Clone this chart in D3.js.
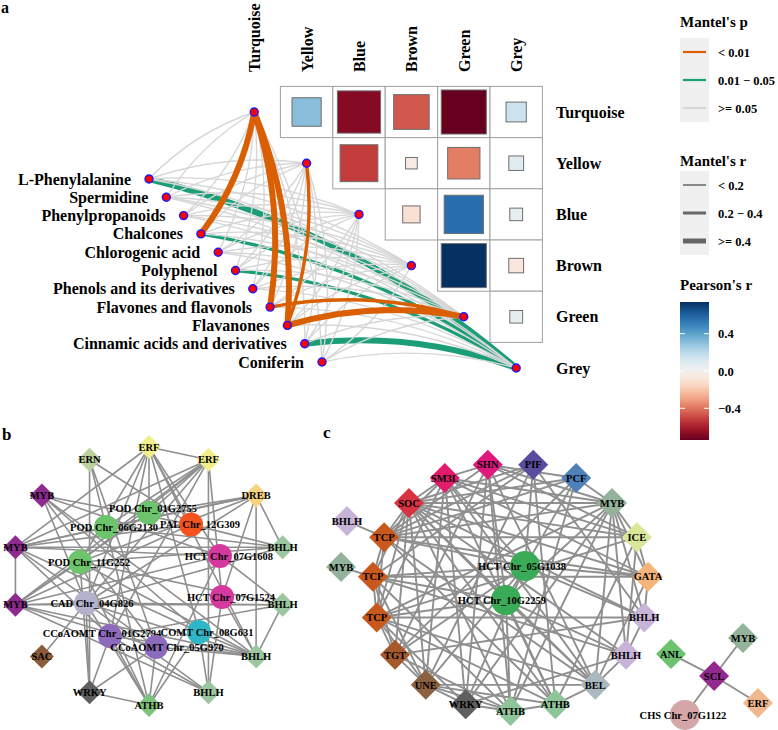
<!DOCTYPE html>
<html><head><meta charset="utf-8">
<script src="https://cdn.jsdelivr.net/npm/d3@7"></script>
<style>
body{margin:0;background:#fff}
text{font-family:"Liberation Serif","Times New Roman",serif;font-weight:bold;fill:#000}
</style></head>
<body><svg id="chart" width="778" height="730"></svg>
<script>
// ================= DATA =================
// Panel a
const modules = ["Turquoise","Yellow","Blue","Brown","Green","Grey"];
const envVars = ["L-Phenylalanine","Spermidine","Phenylpropanoids","Chalcones","Chlorogenic acid","Polyphenol","Phenols and its derivatives","Flavones and flavonols","Flavanones","Cinnamic acids and derivatives","Coniferin"];
const pearsonRows = ["Turquoise","Turquoise","Turquoise","Turquoise","Turquoise","Yellow","Yellow","Yellow","Yellow","Blue","Blue","Blue","Brown","Brown","Green"];
const pearsonCols = ["Yellow","Blue","Brown","Green","Grey","Blue","Brown","Green","Grey","Brown","Green","Grey","Green","Grey","Grey"];
const pearsonR    = [0.31,-0.68,-0.46,-0.74,0.15,-0.52,-0.05,-0.38,0.08,-0.11,0.56,0.06,0.74,-0.08,0.06];
const mantelEnv    = ["Chalcones","Flavones and flavonols","Flavanones","Flavanones","Flavones and flavonols","Flavanones","L-Phenylalanine","Chalcones","Polyphenol","Cinnamic acids and derivatives"];
const mantelModule = ["Turquoise","Turquoise","Turquoise","Yellow","Green","Green","Grey","Grey","Grey","Grey"];
const mantelP      = ["< 0.01","< 0.01","< 0.01","< 0.01","< 0.01","< 0.01","0.01 − 0.05","0.01 − 0.05","0.01 − 0.05","0.01 − 0.05"];
const mantelR      = [">= 0.4",">= 0.4",">= 0.4","0.2 − 0.4","0.2 − 0.4",">= 0.4",">= 0.4","0.2 − 0.4","0.2 − 0.4",">= 0.4"];
const pLevels = ["< 0.01","0.01 − 0.05",">= 0.05"];
const rLevels = ["< 0.2","0.2 − 0.4",">= 0.4"];
const pearsonTicks = [0.4,0.0,-0.4];
const pearsonLimit = [-0.74,0.74];

// Panel b : ring of transcription factors (clockwise from top) and gene nodes
const bRingIds    = ["ERF1","ERF2","DREB","BHLH1","BHLH2","BHLH3","BHLH4","ATHB","WRKY","SAC","MYBlow","MYBmid","MYBtop","ERN"];
const bRingLabels = ["ERF","ERF","DREB","BHLH","BHLH","BHLH","BHLH","ATHB","WRKY","SAC","MYB","MYB","MYB","ERN"];
const bGeneIds    = ["POD01","PAL","POD06","HCT1608","POD11","HCT1524","CAD","COMT","CCo01","CCo05"];
const bGeneLabels = ["POD Chr_01G2755","PAL Chr_12G309","POD Chr_06G2130","HCT Chr_07G1608","POD Chr_11G252","HCT Chr_07G1524","CAD Chr_04G826","COMT Chr_08G631","CCoAOMT Chr_01G2794","CCoAOMT Chr_05G970"];
const bGeneFamily = ["POD","PAL","POD","HCT","POD","HCT","CAD","COMT","CCoAOMT","CCoAOMT"];
const bEdges = [
 ["ERF1","ERF2"],["ERF1","POD01"],["ERF1","MYBmid"],["ERF1","POD11"],["ERF1","CAD"],["ERF1","PAL"],["ERF1","HCT1608"],["ERF1","BHLH3"],["ERF1","COMT"],["ERF1","CCo01"],
 ["ERF2","MYBmid"],["ERF2","MYBlow"],["ERF2","POD11"],["ERF2","POD06"],["ERF2","CAD"],["ERF2","CCo01"],["ERF2","BHLH4"],["ERF2","HCT1524"],["ERF2","POD01"],
 ["DREB","BHLH3"],["DREB","POD11"],["DREB","POD06"],["DREB","MYBmid"],["DREB","CAD"],["DREB","BHLH1"],["DREB","HCT1524"],["DREB","POD01"],
 ["MYBtop","PAL"],["MYBtop","BHLH3"],["MYBtop","CCo05"],["MYBtop","COMT"],["MYBtop","CAD"],["MYBtop","HCT1608"],
 ["MYBmid","MYBlow"],["MYBmid","BHLH1"],["MYBmid","POD06"],["MYBmid","PAL"],["MYBmid","CCo01"],["MYBmid","CCo05"],["MYBmid","COMT"],["MYBmid","HCT1608"],
 ["MYBlow","BHLH2"],["MYBlow","CAD"],["MYBlow","POD11"],["MYBlow","PAL"],["MYBlow","HCT1608"],["MYBlow","CCo05"],["MYBlow","BHLH3"],["MYBlow","BHLH4"],["MYBlow","POD01"],
 ["BHLH1","POD11"],["BHLH1","CAD"],["BHLH1","PAL"],["BHLH1","POD06"],
 ["BHLH2","CAD"],["BHLH2","HCT1608"],["BHLH2","BHLH3"],["BHLH2","CCo01"],["BHLH2","POD11"],
 ["BHLH3","CCo05"],["BHLH3","CCo01"],["BHLH3","COMT"],["BHLH3","CAD"],["BHLH3","POD11"],["BHLH3","HCT1524"],
 ["BHLH4","CCo01"],["BHLH4","CAD"],["BHLH4","HCT1524"],["BHLH4","COMT"],
 ["ATHB","CCo05"],["ATHB","CCo01"],["ATHB","POD11"],["ATHB","CAD"],["ATHB","WRKY"],["ATHB","HCT1608"],["ATHB","POD06"],["ATHB","COMT"],
 ["WRKY","ERN"],["WRKY","CAD"],["WRKY","POD11"],["WRKY","CCo01"],["WRKY","CCo05"],
 ["SAC","CAD"],["ERN","PAL"],["ERN","CCo05"],["ERN","POD06"]
];

// Panel c
const cRingIds    = ["PIF","PCF","MYBt","ICE","GATA","BHLHr","BHLHlr","BEL","ATHB2","ATHB1","WRKY","UNE","TGT","TCP3","TCP2","TCP1","SOC","SM3L","SHN"];
const cRingLabels = ["PIF","PCF","MYB","ICE","GATA","BHLH","BHLH","BEL","ATHB","ATHB","WRKY","UNE","TGT","TCP","TCP","TCP","SOC","SM3L","SHN"];
const cOtherIds    = ["BHLHo","MYBo","HCT05","HCT10","SCL","ANL","MYBs","ERFs","CHS"];
const cOtherLabels = ["BHLH","MYB","HCT Chr_05G1038","HCT Chr_10G2259","SCL","ANL","MYB","ERF","CHS Chr_07G1122"];
const cOtherShape  = ["diamond","diamond","circle","circle","diamond","diamond","diamond","diamond","circle"];
const cEdges = [
 ["BHLHo","TCP1"],["MYBo","TCP2"],
 ["TCP1","SOC"],["TCP1","SM3L"],["TCP1","TCP2"],["TCP1","TCP3"],["TCP1","ICE"],["TCP1","HCT05"],["TCP1","BEL"],["TCP1","ATHB2"],["TCP1","GATA"],["TCP1","PCF"],["TCP1","MYBt"],
 ["TCP2","GATA"],["TCP2","HCT10"],["TCP2","HCT05"],["TCP2","SOC"],["TCP2","TGT"],["TCP2","UNE"],["TCP2","BHLHlr"],["TCP2","ATHB1"],["TCP2","PIF"],["TCP2","TCP3"],
 ["TCP3","BHLHr"],["TCP3","TGT"],["TCP3","UNE"],["TCP3","WRKY"],["TCP3","HCT10"],["TCP3","SM3L"],["TCP3","ATHB2"],["TCP3","BEL"],["TCP3","MYBt"],["TCP3","ICE"],["TCP3","SOC"],
 ["TGT","UNE"],["TGT","HCT05"],["TGT","SOC"],["TGT","SHN"],["TGT","BHLHr"],["TGT","ATHB1"],["TGT","PCF"],
 ["UNE","WRKY"],["UNE","ATHB1"],["UNE","ATHB2"],["UNE","SM3L"],["UNE","SOC"],["UNE","PIF"],["UNE","BEL"],["UNE","HCT05"],
 ["WRKY","ATHB1"],["WRKY","SHN"],["WRKY","SM3L"],["WRKY","MYBt"],["WRKY","BHLHlr"],["WRKY","HCT05"],
 ["ATHB1","ATHB2"],["ATHB1","SHN"],["ATHB1","HCT10"],["ATHB1","PCF"],["ATHB1","MYBt"],["ATHB1","SOC"],
 ["ATHB2","BEL"],["ATHB2","PIF"],["ATHB2","HCT10"],["ATHB2","ICE"],["ATHB2","SM3L"],["ATHB2","SOC"],
 ["BEL","BHLHlr"],["BEL","GATA"],["BEL","HCT10"],["BEL","SOC"],["BEL","SM3L"],["BEL","SHN"],["BEL","MYBt"],
 ["BHLHlr","BHLHr"],["BHLHlr","MYBt"],["BHLHlr","ICE"],["BHLHlr","SOC"],["BHLHlr","HCT10"],
 ["BHLHr","GATA"],["BHLHr","MYBt"],["BHLHr","SOC"],["BHLHr","PIF"],["BHLHr","HCT05"],
 ["GATA","ICE"],["GATA","MYBt"],["GATA","SM3L"],["GATA","SOC"],["GATA","HCT05"],
 ["ICE","MYBt"],["ICE","SOC"],["ICE","SM3L"],["ICE","SHN"],
 ["MYBt","PCF"],["MYBt","SOC"],["MYBt","SM3L"],["MYBt","HCT10"],["MYBt","SHN"],
 ["PCF","SOC"],["PCF","HCT10"],["PCF","SHN"],
 ["PIF","HCT05"],["PIF","SOC"],["PIF","TCP1"],
 ["SHN","SM3L"],["SHN","HCT10"],["SHN","TCP1"],
 ["SM3L","SOC"],["SM3L","HCT05"],["SOC","HCT10"],
 ["SCL","ANL"],["SCL","MYBs"],["SCL","ERFs"],["SCL","CHS"]
];

// ================= LAYOUT / STYLE =================
// free-placed network nodes, in unit coordinates of each network frame
const bGeneLayout = {POD01:[0,-0.49,4,-4],PAL:[0.307,-0.40,9,0],POD06:[-0.314,-0.38,8,0],HCT1608:[0.518,-0.155,9,0],POD11:[-0.504,-0.109,9,0],
  HCT1524:[0.533,0.163,9,0],CAD:[-0.46,0.209,6,0],COMT:[0.365,0.434,8,0],CCo01:[-0.285,0.465,-8,-3],CCo05:[0.051,0.55,11,0]};
const cOtherLayout = {BHLHo:[-1.185,-0.532],MYBo:[-1.228,-0.161],HCT05:[0.105,-0.169],HCT10:[-0.033,0.105],
  SCL:[1.475,0.718],ANL:[1.163,0.540],MYBs:[1.685,0.411],ERFs:[1.793,0.935],CHS:[1.264,1.032]};
const cLabelShift = {HCT05:-3,HCT10:-4,CHS:-2};

const bColors = {ERF:"#f3ee8c",ERN:"#bdd19b",DREB:"#f8d37f",MYB:"#8e2b8e",BHLH:"#9cc6a0",SAC:"#8a5a3b",WRKY:"#5f5f5f",ATHB:"#7cc47d",
  POD:"#6cc46c",PAL:"#f4521e",HCT:"#d6399d",CAD:"#b4b1cd",COMT:"#2db6c6",CCoAOMT:"#8d6bbc"};
const cColors = {PIF:"#5b4c9f",PCF:"#4f80b7",MYB:"#93b39b",ICE:"#dae79b",GATA:"#f6b47b",BHLH:"#c8b4d9",BEL:"#aab8bf",ATHB:"#8ec59b",
  WRKY:"#5f5f5f",UNE:"#8c613f",TGT:"#a65a2c",TCP:"#c9581c",SOC:"#d83343",SM3L:"#e31b6c",SHN:"#e0197f",
  HCT:"#3aac58",SCL:"#93298f",ANL:"#6cc26f",ERF:"#f1b78e",CHS:"#d4a6a7"};

const svg = d3.select("#chart");

// ================= PANEL A =================
const gA = svg.append("g");
const xMod = d3.scaleBand().domain(modules).range([228,542.4]);
const yMod = d3.scaleBand().domain(modules).range([86.4,393.6]);
const cx = m => xMod(m)+xMod.bandwidth()/2, cy = m => yMod(m)+yMod.bandwidth()/2;
const color = d3.scaleSequential(d3.interpolateRdBu).domain(pearsonLimit);
const sizeScale = d3.scaleSqrt().domain([0,1]).range([0,1]);

// grid cells
const cells = pearsonRows.map((r,i)=>({row:r,col:pearsonCols[i],r:pearsonR[i]}));
gA.append("g").selectAll("rect").data(cells).join("rect")
  .attr("x",d=>xMod(d.col)).attr("y",d=>yMod(d.row))
  .attr("width",xMod.bandwidth()).attr("height",yMod.bandwidth())
  .attr("fill","#fff").attr("stroke","#a0a0a0").attr("stroke-width",1);
gA.append("g").selectAll("rect").data(cells).join("rect")
  .attr("x",d=>cx(d.col)-xMod.bandwidth()*sizeScale(Math.abs(d.r))/2)
  .attr("y",d=>cy(d.row)-yMod.bandwidth()*sizeScale(Math.abs(d.r))/2)
  .attr("width",d=>xMod.bandwidth()*sizeScale(Math.abs(d.r)))
  .attr("height",d=>yMod.bandwidth()*sizeScale(Math.abs(d.r)))
  .attr("fill",d=>color(d.r)).attr("stroke","#6e6e6e").attr("stroke-width",1);

// labels
gA.append("g").selectAll("text").data(modules).join("text")
  .attr("transform",d=>`translate(${cx(d)+6},72) rotate(-90)`)
  .attr("font-size",16).text(d=>d);
gA.append("g").selectAll("text").data(modules).join("text")
  .attr("x",556).attr("y",d=>cy(d)+5.5).attr("font-size",16).text(d=>d);

// env nodes
const xEnv = d3.scalePoint().domain(envVars).range([149,322]);
const yEnv = d3.scalePoint().domain(envVars).range([179,362]);
const pColor = d3.scaleOrdinal().domain(pLevels).range(["#D95F02","#1B9E77","#D6D6D6"]);
const rWidth = d3.scaleOrdinal().domain(rLevels).range([1.4,3.4,6]);

const links = [];
envVars.forEach(e=>modules.forEach(m=>{
  const k = mantelEnv.findIndex((v,i)=>v===e && mantelModule[i]===m);
  links.push({env:e,mod:m,p:k>=0?mantelP[k]:">= 0.05",r:k>=0?mantelR[k]:"< 0.2"});
}));
function curve(d){
  const x1=xEnv(d.env), y1=yEnv(d.env), x2=cx(d.mod), y2=cy(d.mod);
  const dx=x2-x1, dy=y2-y1;
  const s = Math.abs(dy)>Math.abs(dx) ? 1 : -1;
  const k = 0.12*s;
  const mx=(x1+x2)/2 + k*(-dy), my=(y1+y2)/2 + k*dx;
  return `M${x1},${y1}Q${mx},${my} ${x2},${y2}`;
}
const order = {"0.01 − 0.05":0,">= 0.05":1,"< 0.01":2};
gA.append("g").selectAll("path").data(links.slice().sort((a,b)=>order[a.p]-order[b.p])).join("path")
  .attr("d",curve).attr("fill","none")
  .attr("stroke",d=>pColor(d.p)).attr("stroke-width",d=>rWidth(d.r));

// points
gA.append("g").selectAll("circle").data(envVars).join("circle")
  .attr("cx",d=>xEnv(d)).attr("cy",d=>yEnv(d)).attr("r",4)
  .attr("fill","#ff0000").attr("stroke","#1a1aff").attr("stroke-width",1.4);
gA.append("g").selectAll("circle").data(modules).join("circle")
  .attr("cx",d=>cx(d)).attr("cy",d=>cy(d)).attr("r",4)
  .attr("fill","#ff0000").attr("stroke","#1a1aff").attr("stroke-width",1.4);
gA.append("g").selectAll("text").data(envVars).join("text")
  .attr("x",d=>xEnv(d)-18).attr("y",d=>yEnv(d)+5.5).attr("text-anchor","end")
  .attr("font-size",16).text(d=>d);

// legends
const lg = svg.append("g");
lg.append("text").attr("x",680).attr("y",27).attr("font-size",15).text("Mantel's p");
lg.append("rect").attr("x",680).attr("y",38).attr("width",29).attr("height",84).attr("fill","#f0f0f0");
const yP = d3.scalePoint().domain(pLevels).range([52,108]);
lg.append("g").selectAll("line").data(pLevels).join("line")
  .attr("x1",683).attr("x2",706).attr("y1",d=>yP(d)).attr("y2",d=>yP(d))
  .attr("stroke",d=>pColor(d)).attr("stroke-width",2.2);
lg.append("g").selectAll("text").data(pLevels).join("text")
  .attr("x",718).attr("y",d=>yP(d)+4.5).attr("font-size",12.5).text(d=>d);

lg.append("text").attr("x",680).attr("y",166).attr("font-size",15).text("Mantel's r");
lg.append("rect").attr("x",680).attr("y",171).attr("width",29).attr("height",84).attr("fill","#f0f0f0");
const yR = d3.scalePoint().domain(rLevels).range([185,241]);
const rKey = d3.scaleOrdinal().domain(rLevels).range([1.5,3,5]);
lg.append("g").selectAll("line").data(rLevels).join("line")
  .attr("x1",683).attr("x2",706).attr("y1",d=>yR(d)).attr("y2",d=>yR(d))
  .attr("stroke","#666").attr("stroke-width",d=>rKey(d));
lg.append("g").selectAll("text").data(rLevels).join("text")
  .attr("x",718).attr("y",d=>yR(d)+4.5).attr("font-size",12.5).text(d=>d);

lg.append("text").attr("x",680).attr("y",290).attr("font-size",15).text("Pearson's r");
const yBar = d3.scaleLinear().domain(pearsonLimit).range([440,302]);
const grad = svg.append("defs").append("linearGradient").attr("id","pg").attr("x1",0).attr("x2",0).attr("y1",1).attr("y2",0);
d3.range(0,1.0001,0.05).forEach(t=>grad.append("stop").attr("offset",t).attr("stop-color",color(pearsonLimit[0]+t*(pearsonLimit[1]-pearsonLimit[0]))));
lg.append("rect").attr("x",680).attr("y",302).attr("width",29).attr("height",138).attr("fill","url(#pg)");
lg.append("g").selectAll("path").data(pearsonTicks).join("path")
  .attr("d",d=>`M680,${yBar(d)}h5M709,${yBar(d)}h-5`).attr("stroke","#fff").attr("stroke-width",1);
lg.append("g").selectAll("text").data(pearsonTicks).join("text")
  .attr("x",718).attr("y",d=>yBar(d)+4.5).attr("font-size",12.5)
  .text(d=>d3.format(".1f")(d).replace("-","−"));

// panel letters
svg.append("text").attr("x",1).attr("y",13).attr("font-size",16).text("a");
svg.append("text").attr("x",2).attr("y",440).attr("font-size",17).text("b");
svg.append("text").attr("x",323).attr("y",438).attr("font-size",17).text("c");

// ================= NETWORK HELPERS =================
const diamond = s => `M0,${-s}L${s},0L0,${s}L${-s},0Z`;
function drawNet(g, nodes, edges, ds, stroke, sw, fs){
  const byId = new Map(nodes.map(n=>[n.id,n]));
  g.append("g").selectAll("line").data(edges).join("line")
    .attr("x1",d=>byId.get(d[0]).x).attr("y1",d=>byId.get(d[0]).y)
    .attr("x2",d=>byId.get(d[1]).x).attr("y2",d=>byId.get(d[1]).y)
    .attr("stroke",stroke).attr("stroke-width",sw);
  const ng = g.append("g").selectAll("g").data(nodes).join("g")
    .attr("transform",d=>`translate(${d.x},${d.y})`);
  ng.filter(d=>d.shape==="diamond").append("path").attr("d",d=>diamond(ds)).attr("fill",d=>d.color);
  ng.filter(d=>d.shape==="circle").append("circle").attr("r",d=>d.r).attr("fill",d=>d.color);
  ng.append("text").attr("x",d=>d.lx||0).attr("y",d=>(d.ly||0)+fs*0.35)
    .attr("text-anchor","middle").attr("font-size",fs).text(d=>d.label);
}

// ================= PANEL B =================
const xB = d3.scaleLinear().domain([-1,1]).range([12,286]);
const yB = d3.scaleLinear().domain([-1,1]).range([447,705]);
const angB = d3.scaleLinear().domain([0,bRingIds.length]).range([-Math.PI/2,1.5*Math.PI]);
const bNodes = bRingIds.map((id,i)=>({id,label:bRingLabels[i],shape:"diamond",color:bColors[bRingLabels[i]],
  x:xB(Math.cos(angB(i))),y:yB(Math.sin(angB(i)))}))
 .concat(bGeneIds.map((id,i)=>({id,label:bGeneLabels[i],shape:"circle",r:12,color:bColors[bGeneFamily[i]],
  x:xB(bGeneLayout[id][0]),y:yB(bGeneLayout[id][1]),lx:bGeneLayout[id][2],ly:bGeneLayout[id][3]})));
drawNet(svg.append("g"), bNodes, bEdges, 12, "#8f8f8f", 1.6, 10.5);

// ================= PANEL C =================
const xC = d3.scaleLinear().domain([-1,1]).range([372.5,648.5]);
const yC = d3.scaleLinear().domain([-1,1]).range([463,711]);
const angC = d3.scaleLinear().domain([0,cRingIds.length]).range([-Math.PI/2+Math.PI/cRingIds.length,1.5*Math.PI+Math.PI/cRingIds.length]);
const famOf = l => l.split(" ")[0];
const cNodes = cRingIds.map((id,i)=>({id,label:cRingLabels[i],shape:"diamond",color:cColors[cRingLabels[i]],
  x:xC(Math.cos(angC(i))),y:yC(Math.sin(angC(i)))}))
 .concat(cOtherIds.map((id,i)=>({id,label:cOtherLabels[i],shape:cOtherShape[i],r:15,color:cColors[famOf(cOtherLabels[i])],
  x:xC(cOtherLayout[id][0]),y:yC(cOtherLayout[id][1]),lx:cLabelShift[id]||0})));
drawNet(svg.append("g"), cNodes, cEdges, 15, "#8f8f8f", 1.9, 10.5);
</script></body></html>
